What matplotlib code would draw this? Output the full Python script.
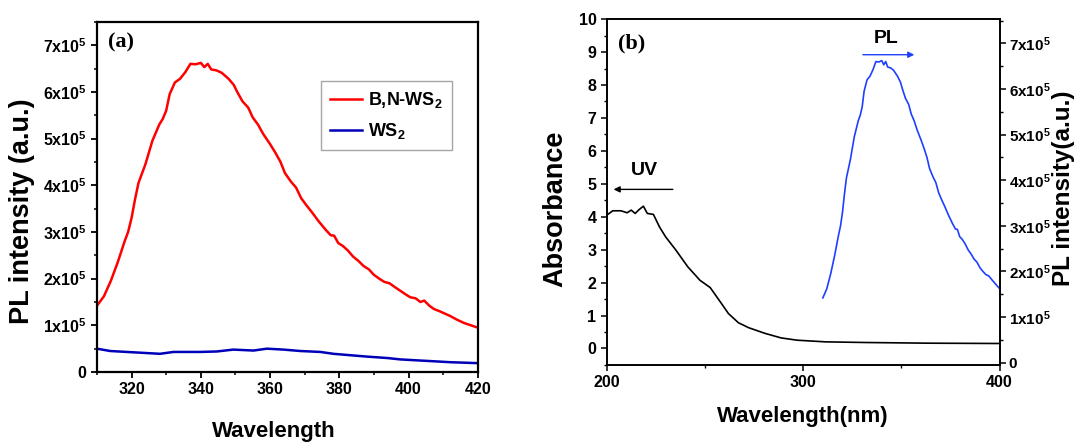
import numpy as np
import matplotlib
matplotlib.use("Agg")
import matplotlib.pyplot as plt
from matplotlib.ticker import MultipleLocator, FixedLocator, FuncFormatter

plt.rcParams['font.family'] = ['Liberation Sans', 'DejaVu Sans']
plt.rcParams['font.weight'] = 'bold'
plt.rcParams['mathtext.fontset'] = 'custom'
plt.rcParams['mathtext.rm'] = 'Liberation Sans:bold'
plt.rcParams['mathtext.default'] = 'rm'

# PL spectrum of B,N-WS2 (intensity in units of 1e5)
bn_wl = [310, 312, 314, 316, 318, 319, 320, 321, 322, 324, 326, 328, 329, 330, 331,
         332.5, 334, 335.5, 337, 338.5, 340, 341, 342, 343, 344.5, 346, 348, 349.5,
         350.5, 352, 353.7, 355, 356.5, 358, 360, 361.5, 363, 364.3, 366, 367.5, 369,
         370.5, 372, 374, 376, 377.5, 378.5, 379.7, 381, 382.5, 384, 385.5, 387, 388.5,
         390, 391.5, 393, 394.5, 396, 397.6, 399, 400.5, 402, 403.4, 404.5, 406, 407.3,
         409, 410.5, 412, 414, 416, 418, 420]
bn_int = [1.42, 1.62, 1.95, 2.35, 2.8, 3.0, 3.3, 3.7, 4.05, 4.45, 4.95, 5.3, 5.42, 5.6, 5.95,
          6.2, 6.28, 6.42, 6.6, 6.59, 6.62, 6.53, 6.6, 6.48, 6.46, 6.41, 6.28, 6.15,
          6.0, 5.8, 5.66, 5.45, 5.3, 5.1, 4.88, 4.7, 4.5, 4.26, 4.08, 3.95, 3.72,
          3.57, 3.43, 3.23, 3.05, 2.93, 2.92, 2.76, 2.7, 2.6, 2.47, 2.38, 2.27, 2.2,
          2.08, 2.0, 1.93, 1.9, 1.82, 1.74, 1.67, 1.6, 1.58, 1.5, 1.53, 1.42, 1.35,
          1.3, 1.25, 1.2, 1.12, 1.05, 1.0, 0.95]

# PL spectrum of WS2
ws_wl = [310, 313.8, 318.6, 323.4, 328.2, 332.1, 336.0, 339.8, 344.6, 349.4, 355.2,
         359.1, 363.9, 368.7, 374.5, 378.3, 383.1, 388.0, 393.8, 397.6, 402.4, 407.3,
         412.1, 420]
ws_int = [0.50, 0.45, 0.43, 0.41, 0.39, 0.43, 0.43, 0.43, 0.44, 0.48, 0.46,
          0.50, 0.48, 0.45, 0.43, 0.39, 0.36, 0.33, 0.30, 0.27, 0.25, 0.23,
          0.21, 0.19]

# UV absorbance
uv_wl = [200, 203, 207.2, 210.3, 212.4, 214.4, 216.5, 218.6, 220.6, 223.7, 226.8,
         229.9, 235.1, 241.2, 247.4, 252.6, 257.7, 261.9, 267.0, 272.2, 280.4, 288.7,
         296.9, 311.3, 332, 362.9, 400]
uv_abs = [4.05, 4.18, 4.18, 4.12, 4.2, 4.1, 4.22, 4.32, 4.1, 4.07, 3.69,
          3.39, 2.99, 2.48, 2.07, 1.85, 1.42, 1.06, 0.78, 0.63, 0.46, 0.32,
          0.25, 0.2, 0.18, 0.16, 0.15]

bn_wl = np.array(bn_wl)
bn_int = np.array(bn_int) * 1e5
ws_int = np.array(ws_int) * 1e5


def sci_fmt(v, pos):
    n = int(round(v / 1e5))
    if n == 0:
        return '0'
    return r'%dx10$^{5}$' % n


fig = plt.figure(figsize=(10.76, 4.45), dpi=100)

# ---- panel (a)
ax1 = fig.add_axes([0.0901, 0.164, 0.354, 0.787])
ax1.plot(bn_wl, bn_int, color='#ff0000', lw=1.8, label=r'B,N-WS$_{2}$')
ax1.plot(ws_wl, ws_int, color='#0000b8', lw=1.8, label=r'WS$_{2}$')
ax1.set_xlim(310, 420)
ax1.set_ylim(0, 7.5e5)
ax1.xaxis.set_major_locator(FixedLocator([320, 340, 360, 380, 400, 420]))
ax1.xaxis.set_minor_locator(MultipleLocator(10))
ax1.yaxis.set_major_locator(MultipleLocator(1e5))
ax1.yaxis.set_minor_locator(MultipleLocator(0.5e5))
ax1.yaxis.set_major_formatter(FuncFormatter(sci_fmt))
for s in ax1.spines.values():
    s.set_linewidth(1.6)
ax1.tick_params(which='major', direction='out', length=4, width=1.3, labelsize=11.5)
ax1.tick_params(which='minor', direction='out', length=2.5, width=1.1)
ax1.set_xlabel('Wavelength', fontsize=16, fontweight='bold', va='center')
ax1.xaxis.set_label_coords(0.465, -0.171)
ax1.set_ylabel('PL intensity (a.u.)', fontsize=19.5, fontweight='bold', va='center')
ax1.yaxis.set_label_coords(-0.197, 0.46)
ax1.text(0.028, 0.94, '(a)', transform=ax1.transAxes, fontsize=16,
         fontweight='bold', family='Liberation Serif', va='center')
leg = ax1.legend(loc='upper left', bbox_to_anchor=(0.588, 0.831), fontsize=13,
                 frameon=True, fancybox=False, handlelength=1.8, handletextpad=0.3,
                 borderpad=0.5, labelspacing=0.6, borderaxespad=0)
leg.get_frame().set_edgecolor('#909090')
leg.get_frame().set_linewidth(1.0)

# ---- panel (b)
ax2 = fig.add_axes([0.564, 0.180, 0.365, 0.777])
ax2.plot(uv_wl, uv_abs, color='black', lw=1.2)
ax2.set_xlim(200, 400)
ax2.set_ylim(-0.5, 10)
ax2.xaxis.set_major_locator(MultipleLocator(100))
ax2.xaxis.set_minor_locator(MultipleLocator(50))
ax2.yaxis.set_major_locator(MultipleLocator(1))
ax2.yaxis.set_minor_locator(MultipleLocator(0.5))
ax2.tick_params(which='major', direction='out', length=4, width=1.1, labelsize=11.5)
ax2.tick_params(which='minor', direction='out', length=2.5, width=1.0)
ax2.set_xlabel('Wavelength(nm)', fontsize=16, fontweight='bold', va='center')
ax2.xaxis.set_label_coords(0.50, -0.150)
ax2.set_ylabel('Absorbance', fontsize=19.5, fontweight='bold', va='center')
ax2.yaxis.set_label_coords(-0.132, 0.45)
ax2.text(0.028, 0.93, '(b)', transform=ax2.transAxes, fontsize=16,
         fontweight='bold', family='Liberation Serif', va='center')
ax2.text(219, 5.4, 'UV', fontsize=14, fontweight='bold', ha='center', va='center')
ax2.annotate('', xy=(202, 4.83), xytext=(235, 4.83),
             arrowprops=dict(arrowstyle='-|>', color='black', lw=1.0,
                             mutation_scale=9))

ax3 = ax2.twinx()
ax3.plot(bn_wl, bn_int, color='#1f3fff', lw=1.2)
ax3.set_ylim(-0.05e5, 7.53e5)
ax3.yaxis.set_major_locator(MultipleLocator(1e5))
ax3.yaxis.set_minor_locator(MultipleLocator(0.5e5))
ax3.yaxis.set_major_formatter(FuncFormatter(sci_fmt))
ax3.tick_params(which='major', direction='out', length=4, width=1.1, labelsize=11,
                pad=2.5)
ax3.tick_params(which='minor', direction='out', length=2.5, width=1.0)
ax3.set_ylabel('PL intensity(a.u.)', fontsize=17.5, fontweight='bold', va='center',
               rotation=90)
ax3.yaxis.set_label_coords(1.163, 0.51)
ax3.text(342.3, 7.1e5, 'PL', fontsize=14, fontweight='bold', ha='center', va='center')
ax3.annotate('', xy=(358, 6.75e5), xytext=(329, 6.75e5),
             arrowprops=dict(arrowstyle='-|>', color='#1f3fff', lw=1.0,
                             mutation_scale=9))
for s in list(ax2.spines.values()) + list(ax3.spines.values()):
    s.set_linewidth(1.2)

fig.savefig('out.png', dpi=100)
